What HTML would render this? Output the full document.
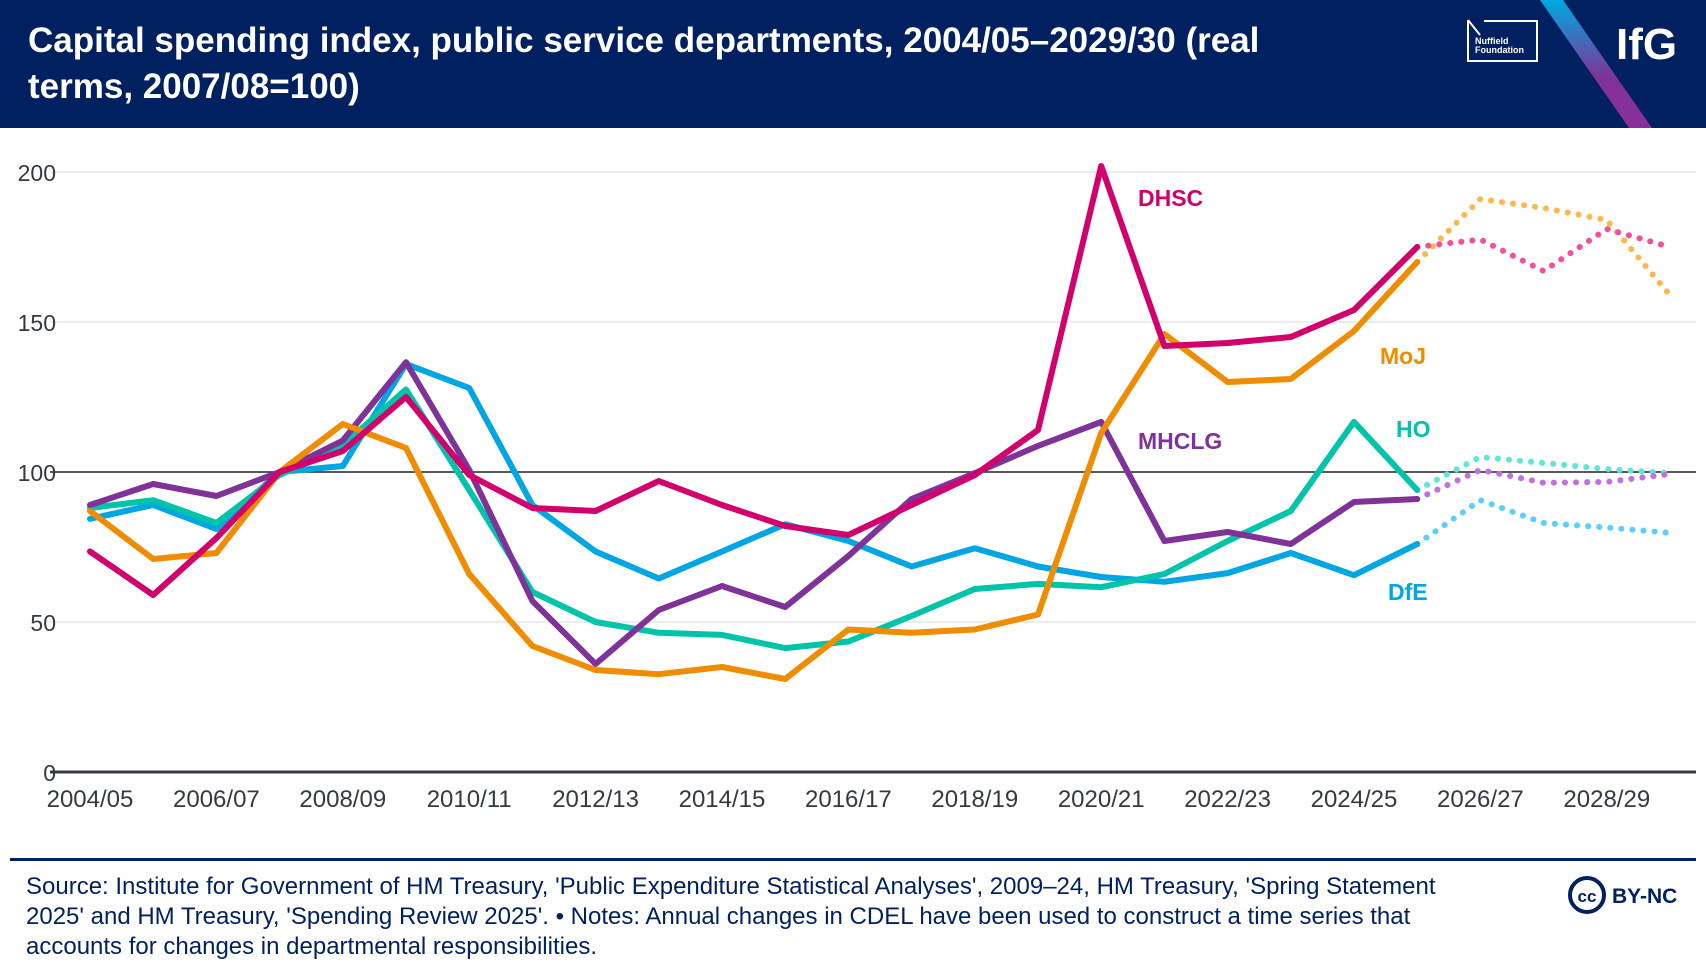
<!DOCTYPE html>
<html><head><meta charset="utf-8">
<style>
body{margin:0;width:1706px;height:978px;background:#fff;overflow:hidden;font-family:"Liberation Sans","DejaVu Sans",sans-serif;}
#hdr{position:absolute;left:0;top:0;width:1706px;height:128px;background:#00205f;overflow:hidden;}
#title{position:absolute;left:28px;top:18px;color:#fff;font-weight:bold;font-size:35px;line-height:46px;width:1290px;}
#foot{position:absolute;left:26px;top:872px;color:#00205f;font-size:24px;line-height:30px;width:1460px;}
</style></head><body>
<div id="hdr">
<div id="title">Capital spending index, public service departments, 2004/05–2029/30 (real terms, 2007/08=100)</div>
<svg width="1706" height="128" style="position:absolute;left:0;top:0">
<defs><linearGradient id="g" x1="0" y1="0" x2="0" y2="1"><stop offset="0" stop-color="#00a9e0"/><stop offset="0.6" stop-color="#7f3398"/><stop offset="1" stop-color="#8a2f9a"/></linearGradient></defs>
<polygon points="1540,0 1563,0 1652,128 1629,128" fill="url(#g)"/>
<g>
<polyline points="1468,20 1468,61 1537,61 1537,21 1484,21" fill="none" stroke="#fff" stroke-width="2"/>
<polyline points="1468,20 1480,35" stroke="#fff" stroke-width="2"/>
<text x="1475" y="44" fill="#fff" font-size="9" font-weight="bold">Nuffield</text>
<text x="1475" y="53" fill="#fff" font-size="9" font-weight="bold">Foundation</text>
</g>
<text x="1616" y="59" fill="#fff" font-size="44" font-weight="bold">IfG</text>
</svg>
</div>
<svg id="chart" width="1706" height="860" style="position:absolute;left:0;top:0"></svg>
<div style="position:absolute;left:10px;top:858px;width:1686px;height:3px;background:#00205f"></div>
<div id="foot">Source: Institute for Government of HM Treasury, 'Public Expenditure Statistical Analyses', 2009–24, HM Treasury, 'Spring Statement 2025' and HM Treasury, 'Spending Review 2025'. • Notes: Annual changes in CDEL have been used to construct a time series that accounts for changes in departmental responsibilities.</div>
<div style="position:absolute;left:1567px;top:875px;width:140px;height:40px">
<svg width="140" height="40"><circle cx="20" cy="20" r="17" fill="#fff" stroke="#00205f" stroke-width="4"/><text x="20" y="27" text-anchor="middle" font-size="17" font-weight="bold" fill="#00205f">cc</text><text x="45" y="28" font-size="21" font-weight="bold" fill="#00205f">BY-NC</text></svg>
</div>
<script>
const years=["2004/05","2005/06","2006/07","2007/08","2008/09","2009/10","2010/11","2011/12","2012/13","2013/14","2014/15","2015/16","2016/17","2017/18","2018/19","2019/20","2020/21","2021/22","2022/23","2023/24","2024/25","2025/26","2026/27","2027/28","2028/29","2029/30"];
const yTicks=[0,50,100,150,200];
const dhsc=[73.5,59,78,100,107,125,99,88,87,97,89,82,79,89,99,114,202,142,143,145,154,175,177.5,167,181,175];
const moj=[87,71,73,100,116,108,66,42,34,32.6,35,31,47.5,46.4,47.5,52.5,113,146,130,131,147,170,191,188,184,159];
const ho=[88,90.6,83,99,109,127.5,94,60,50,46.4,45.7,41.3,43.5,52,61,62.7,61.6,66,77,87,116.7,94,105,103,101,99.6];
const mhclg=[89,96,92,100,110.5,136.6,100.7,57,36,54,62,55,72,91,99.6,108.7,116.7,77,80,76,90,91,100.7,96.4,96.7,99.3];
const dfe=[84.4,89,81,100,102,136,128,89,73.5,64.5,73.5,82.6,77,68.5,74.6,68.5,65,63.4,66.3,73,65.6,76,90.6,83,81.5,79.7];
const lastActual=21;
const NS="http://www.w3.org/2000/svg";
const svg=document.getElementById('chart');
const x=i=>90+i*63.2;
const y=v=>772-v*3;
function mk(t,a){const e=document.createElementNS(NS,t);for(const k in a)e.setAttribute(k,a[k]);svg.appendChild(e);return e;}
yTicks.forEach(t=>{
  const l=mk('line',{x1:50,x2:1696,y1:y(t),y2:y(t),stroke:t===100?'#222':(t===0?'#333a44':'#e6e6e6'),'stroke-width':t===0?3:1.5});
  
  
  const tx=mk('text',{x:56,y:y(t)+9,'text-anchor':'end','font-size':23,fill:'#333a44'});
  tx.textContent=t;
  
  
});
years.forEach((yr,i)=>{if(i%2===0&&i<25){
  const tx=mk('text',{x:x(i),y:807,'text-anchor':'middle','font-size':24,fill:'#333a44'});
  tx.textContent=yr;
  
  
}});
const series=[
 {n:'dfe',d:dfe,c:'#00a5e3',lc:'#5ccfff',lab:'DfE',lx:1388,ly:600},
 {n:'ho',d:ho,c:'#00c4aa',lc:'#5fe6d6',lab:'HO',lx:1396,ly:437},
 {n:'mhclg',d:mhclg,c:'#7f3398',lc:'#c270e0',lab:'MHCLG',lx:1138,ly:449},
 {n:'moj',d:moj,c:'#f08c00',lc:'#ffb84d',lab:'MoJ',lx:1380,ly:364},
 {n:'dhsc',d:dhsc,c:'#d1006c',lc:'#f2509f',lab:'DHSC',lx:1138,ly:206}
];
series.forEach(s=>{
  const sol=s.d.slice(0,lastActual+1).map((v,i)=>x(i)+','+y(v)).join(' ');
  const dot=s.d.slice(lastActual).map((v,i)=>x(i+lastActual)+','+y(v)).join(' ');
  const p2=mk('polyline',{points:dot,fill:'none',stroke:s.lc,'stroke-width':6,'stroke-dasharray':'0.1 11','stroke-linecap':'round'});
  
  
  const p=mk('polyline',{points:sol,fill:'none',stroke:s.c,'stroke-width':6,'stroke-linejoin':'round','stroke-linecap':'round'});
  
  
  const t=mk('text',{x:s.lx,y:s.ly,'font-size':23,'font-weight':'bold',fill:s.c});
  t.textContent=s.lab;
  
  
});
</script>
</body></html>
